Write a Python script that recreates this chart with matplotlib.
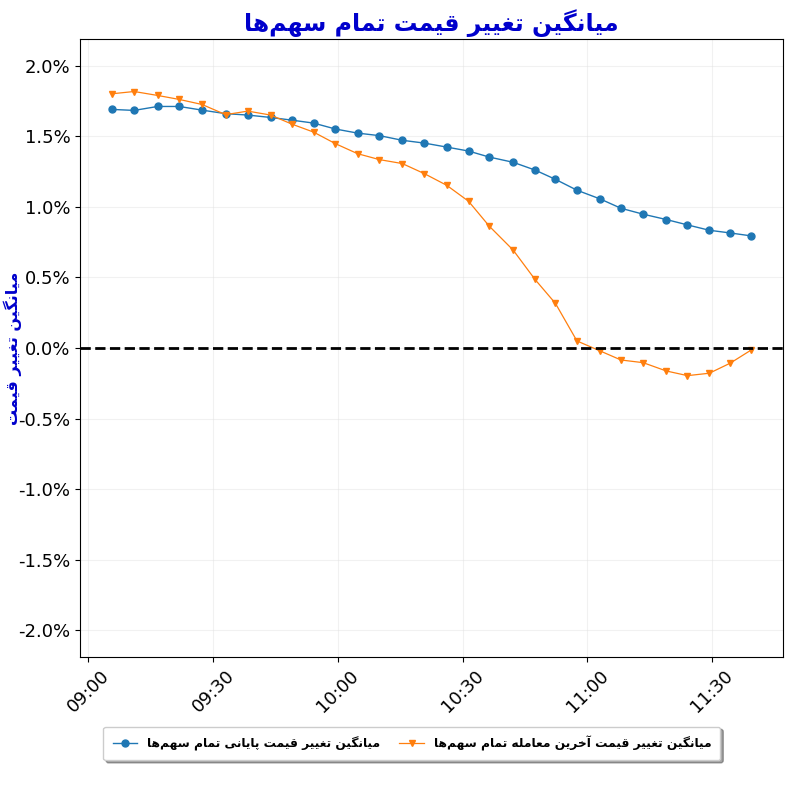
import matplotlib
matplotlib.use("Agg")
import matplotlib.pyplot as plt
import matplotlib.dates as mdates
from matplotlib.ticker import FuncFormatter
from datetime import datetime

times = ["09:05:40", "09:11:00", "09:16:40", "09:21:50", "09:27:20", "09:33:00",
         "09:38:20", "09:43:50", "09:48:55", "09:54:10", "09:59:25", "10:04:45",
         "10:10:00", "10:15:30", "10:20:50", "10:26:10", "10:31:25", "10:36:25",
         "10:42:10", "10:47:25", "10:52:20", "10:57:30", "11:03:05", "11:08:05",
         "11:13:25", "11:19:00", "11:24:05", "11:29:20", "11:34:20", "11:39:25"]

closing_change = [1.692, 1.685, 1.713, 1.713, 1.687, 1.662, 1.652, 1.635, 1.616, 1.595,
                  1.553, 1.524, 1.506, 1.473, 1.453, 1.425, 1.397, 1.354, 1.317, 1.262,
                  1.196, 1.119, 1.057, 0.991, 0.949, 0.911, 0.873, 0.835, 0.816, 0.795]

last_trade_change = [1.803, 1.819, 1.791, 1.763, 1.727, 1.655, 1.680, 1.652, 1.588, 1.531,
                     1.449, 1.378, 1.336, 1.308, 1.236, 1.154, 1.041, 0.864, 0.694, 0.486,
                     0.316, 0.050, -0.021, -0.085, -0.104, -0.163, -0.196, -0.179, -0.108, -0.014]

title_text = "میانگین تغییر قیمت تمام سهم\u200cها"
ylabel_text = "میانگین تغییر قیمت"
label_closing = "میانگین تغییر قیمت پایانی تمام سهم\u200cها"
label_last = "میانگین تغییر قیمت آخرین معامله تمام سهم\u200cها"

# Minimal Persian shaping (presentation forms, visual order)
FORMS = {
    "\u0627": ("\uFE8D", "\uFE8E"),
    "\u0622": ("\uFE81", "\uFE82"),
    "\u0631": ("\uFEAD", "\uFEAE"),
    "\u067E": ("\uFB56", "\uFB57", "\uFB58", "\uFB59"),
    "\u062A": ("\uFE95", "\uFE96", "\uFE97", "\uFE98"),
    "\u062E": ("\uFEA5", "\uFEA6", "\uFEA7", "\uFEA8"),
    "\u0633": ("\uFEB1", "\uFEB2", "\uFEB3", "\uFEB4"),
    "\u0639": ("\uFEC9", "\uFECA", "\uFECB", "\uFECC"),
    "\u063A": ("\uFECD", "\uFECE", "\uFECF", "\uFED0"),
    "\u0642": ("\uFED5", "\uFED6", "\uFED7", "\uFED8"),
    "\u06AF": ("\uFB92", "\uFB93", "\uFB94", "\uFB95"),
    "\u0644": ("\uFEDD", "\uFEDE", "\uFEDF", "\uFEE0"),
    "\u0645": ("\uFEE1", "\uFEE2", "\uFEE3", "\uFEE4"),
    "\u0646": ("\uFEE5", "\uFEE6", "\uFEE7", "\uFEE8"),
    "\u0647": ("\uFEE9", "\uFEEA", "\uFEEB", "\uFEEC"),
    "\u06CC": ("\uFBFC", "\uFBFD", "\uFBFE", "\uFBFF"),
}


def shape(s):
    out = []
    n = len(s)
    for i, c in enumerate(s):
        if c == "\u200c":
            continue
        if c not in FORMS:
            out.append(c)
            continue
        f = FORMS[c]
        prev = s[i - 1] if i > 0 else ""
        nxt = s[i + 1] if i + 1 < n else ""
        jp = prev in FORMS and len(FORMS[prev]) == 4
        jn = len(f) == 4 and nxt in FORMS
        if jp and jn:
            out.append(f[3])
        elif jp:
            out.append(f[1])
        elif jn:
            out.append(f[2])
        else:
            out.append(f[0])
    return "".join(reversed(out))


plt.rcParams['font.family'] = ['DejaVu Sans']

x = [datetime.strptime("2023-01-01 " + t, "%Y-%m-%d %H:%M:%S") for t in times]

fig = plt.figure(figsize=(8, 8), dpi=100)
ax = fig.add_axes([0.1, 0.179, 0.879, 0.772])

ax.plot(x, closing_change, marker="o", markersize=5, linewidth=1,
        color="#1f77b4", label=shape(label_closing))
ax.plot(x, last_trade_change, marker="v", markersize=5, linewidth=0.9,
        color="#ff7f0e", label=shape(label_last))
ax.axhline(0, color="black", linestyle="--", linewidth=2)

ax.set_ylim(-2.19, 2.19)
ax.set_yticks([-2.0, -1.5, -1.0, -0.5, 0.0, 0.5, 1.0, 1.5, 2.0])
ax.yaxis.set_major_formatter(FuncFormatter(lambda v, p: f"{v:.1f}%"))
ax.xaxis.set_major_locator(mdates.MinuteLocator(byminute=[0, 30]))
ax.xaxis.set_major_formatter(mdates.DateFormatter("%H:%M"))
ax.tick_params(axis="both", labelsize=13)
plt.setp(ax.get_xticklabels(), rotation=45)
ax.grid(True, color="#dddddd", alpha=0.4, linewidth=0.8)

ax.set_title(shape(title_text), color="#0000cc", fontsize=17, fontweight="bold")
ax.set_ylabel(shape(ylabel_text), color="#0000cc", fontsize=11.5, fontweight="bold")
ax.yaxis.set_label_coords(-0.083, 0.5)

ax.legend(loc="upper center", bbox_to_anchor=(0.472, -0.103), ncol=2, fancybox=True,
          shadow=True, borderpad=0.75, columnspacing=1.6,
          prop={"weight": "bold", "size": 8.8})

fig.savefig("out.png", dpi=100)
